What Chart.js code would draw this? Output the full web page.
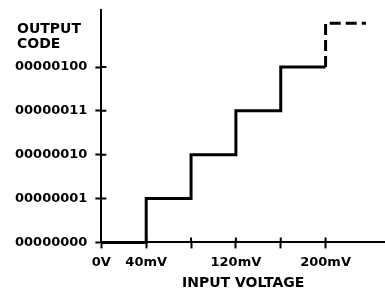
<!DOCTYPE html>
<html>
<head>
<meta charset="utf-8">
<script src="https://cdn.jsdelivr.net/npm/chart.js@4/dist/chart.umd.min.js"></script>
<style>
  html, body { margin: 0; padding: 0; background: #fff; }
  canvas { display: block; }
</style>
</head>
<body>
<canvas id="chart" width="385" height="290"></canvas>
<script>
// staircase, input in mV, output code as integer level
var voltages = [0, 40, 80, 120, 160, 200]
var codes = [0, 1, 2, 3, 4, 4]
// dashed continuation
var nextVoltages = [200, 236]
var nextCodes = [4, 5]

var xTickValues = [0, 40, 80, 120, 160, 200]
var xTickLabels = ['0V', '40mV', '', '120mV', '', '200mV']
var yTickLabels = ['00000000', '00000001', '00000010', '00000011', '00000100']
var yTitleLines = ['OUTPUT', 'CODE']

var FONT = "'DejaVu Sans', sans-serif"

function toPoints(xs, ys) {
    return xs.map(function (x, i) { return { x: x, y: ys[i] } })
}

// axis title sitting above the y labels, horizontal
var yTitlePlugin = {
    id: 'yTitle',
    afterDraw: function (chart) {
        var ctx = chart.ctx
        var yScale = chart.scales.y
        var mid = yScale.getPixelForValue(4.68)
        ctx.save()
        ctx.fillStyle = '#000'
        ctx.font = "bold 14px " + FONT
        ctx.textAlign = 'left'
        ctx.textBaseline = 'middle'
        ctx.fillText(yTitleLines[0], yScale.left + 10, mid - 7.5)
        ctx.fillText(yTitleLines[1], yScale.left + 10, mid + 7.5)
        ctx.restore()
    }
}

// tick marks in the original cross the axis, so extend them inward a bit
var crossTicksPlugin = {
    id: 'crossTicks',
    afterDraw: function (chart) {
        var ctx = chart.ctx
        var xs = chart.scales.x
        var ys = chart.scales.y
        var area = chart.chartArea
        ctx.save()
        ctx.strokeStyle = '#000'
        ctx.lineWidth = 2
        ctx.beginPath()
        xs.ticks.forEach(function (t) {
            if (t.value === 0) return
            var px = xs.getPixelForValue(t.value)
            ctx.moveTo(px, area.bottom)
            ctx.lineTo(px, area.bottom - 5)
        })
        ys.ticks.forEach(function (t) {
            if (t.value === 0) return
            var py = ys.getPixelForValue(t.value)
            ctx.moveTo(area.left, py)
            ctx.lineTo(area.left + 5, py)
        })
        ctx.stroke()
        ctx.restore()
    }
}

new Chart(document.getElementById('chart').getContext('2d'), {
    type: 'line',
    data: {
        datasets: [{
            data: toPoints(voltages, codes),
            stepped: 'before',
            borderColor: '#000',
            borderWidth: 3,
            pointRadius: 0,
            fill: false,
            clip: 4
        }, {
            data: toPoints(nextVoltages, nextCodes),
            stepped: 'after',
            borderColor: '#000',
            borderWidth: 3,
            borderDash: [11, 5],
            pointRadius: 0,
            fill: false,
            clip: 4
        }]
    },
    options: {
        responsive: false,
        animation: false,
        layout: { padding: { left: 7, top: 10, right: 0, bottom: 0 } },
        plugins: {
            legend: { display: false },
            tooltip: { enabled: false }
        },
        scales: {
            x: {
                type: 'linear',
                min: 0,
                max: 253,
                afterBuildTicks: function (scale) {
                    scale.ticks = xTickValues.map(function (v) { return { value: v } })
                },
                ticks: {
                    autoSkip: false,
                    maxRotation: 0,
                    padding: 6,
                    color: '#000',
                    font: { family: FONT, size: 13, weight: 'bold' },
                    callback: function (value) {
                        var i = xTickValues.indexOf(value)
                        return i >= 0 ? xTickLabels[i] : ''
                    }
                },
                grid: {
                    drawOnChartArea: false,
                    drawTicks: true,
                    tickLength: 6,
                    tickWidth: 2,
                    tickColor: '#000'
                },
                border: { display: true, color: '#000', width: 2 },
                title: {
                    display: true,
                    text: 'INPUT VOLTAGE',
                    color: '#000',
                    font: { family: FONT, size: 14, weight: 'bold', lineHeight: 1 },
                    padding: { top: 0, bottom: 0 }
                }
            },
            y: {
                type: 'linear',
                min: 0,
                max: 5.3,
                afterBuildTicks: function (scale) {
                    scale.ticks = yTickLabels.map(function (_, i) { return { value: i } })
                },
                ticks: {
                    autoSkip: false,
                    padding: 8,
                    color: '#000',
                    // small lineHeight keeps the label from padding the top of the axis
                    font: { family: FONT, size: 13, weight: 'bold', lineHeight: 0.3 },
                    callback: function (value) {
                        return yTickLabels[value]
                    }
                },
                grid: {
                    drawOnChartArea: false,
                    drawTicks: true,
                    tickLength: 6,
                    tickWidth: 2,
                    tickColor: '#000'
                },
                border: { display: true, color: '#000', width: 2 }
            }
        }
    },
    plugins: [yTitlePlugin, crossTicksPlugin]
})
</script>
</body>
</html>
